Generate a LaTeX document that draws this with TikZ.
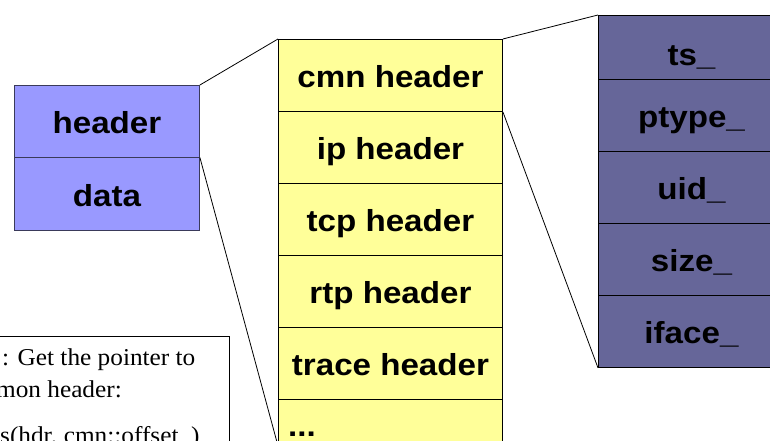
\documentclass[tikz,border=0pt]{standalone}
\usepackage{fontspec}
\setmainfont{Liberation Serif}
\newfontfamily\labelfont{Liberation Sans}
\usepackage{graphicx}
\definecolor{pktblue}{HTML}{9999FF}
\definecolor{pktyellow}{HTML}{FFFF99}
\definecolor{pktpurple}{HTML}{666699}
\definecolor{pktedge}{HTML}{3A3A5A}
\newcommand{\cellfont}{\labelfont\bfseries\fontsize{30.4bp}{36bp}\selectfont}
\newcommand{\cell}[1]{\scalebox{1.09}[1]{\cellfont #1}}
\newcommand{\note}[1]{\scalebox{1.045}[1]{\fontsize{24.2bp}{29bp}\selectfont #1}}
\tikzset{
  field/.style={draw, line width=0.9bp, rectangle, anchor=north west, inner sep=0pt,
    text height=24bp, text depth=0pt, font=\cellfont},
  pkt/.style={field, draw=pktedge, fill=pktblue, minimum width=185bp, minimum height=72.5bp},
  hdr/.style={field, draw=black, fill=pktyellow, minimum width=224bp, minimum height=72bp},
  cmnf/.style={field, draw=black, fill=pktpurple, minimum width=186bp, minimum height=72bp},
  zoomline/.style={draw=black, line width=0.8bp},
  notetext/.style={inner sep=0pt}
}
\begin{document}
\begin{tikzpicture}[x=1bp,y=-1bp]
\useasboundingbox (0,0) rectangle (770,441);
\clip (0,0) rectangle (770,441);

% packet: header + data
\node[pkt] (pkthdr) at (14,85) {\cell{header}};
\node[pkt] (pktdata) at (14,157.5) {\cell{data}};

% header stack
\node[hdr] (cmn) at (278,39) {\cell{cmn header}};
\node[hdr] (ip) at (278,111) {\cell{ip header}};
\node[hdr] (tcp) at (278,183) {\cell{tcp header}};
\node[hdr] (rtp) at (278,255) {\cell{rtp header}};
\node[hdr] (trace) at (278,327) {\cell{trace header}};
\node[hdr, minimum height=46bp] (more) at (278,399) {};
\node[notetext, anchor=base west, font=\cellfont] (dots) at (288,436) {\cell{...}};

% common header fields
\node[cmnf, minimum height=64bp, text height=37bp] (ts) at (598,15) {\cell{ts\_}};
\node[cmnf] (ptype) at (598,79) {\cell{ptype\_}};
\node[cmnf] (uid) at (598,151) {\cell{uid\_}};
\node[cmnf] (size) at (598,223) {\cell{size\_}};
\node[cmnf] (iface) at (598,295) {\cell{iface\_}};

% zoom lines
\draw[zoomline] (pkthdr.north east) -- (cmn.north west);
\draw[zoomline] (pktdata.north east) -- (more.south west);
\draw[zoomline] (cmn.north east) -- (ts.north west);
\draw[zoomline] (cmn.south east) -- (iface.south west);

% code note
\node[draw=black, line width=0.9bp, fill=white, anchor=north west, inner sep=0pt,
  minimum width=250bp, minimum height=140bp] (notebox) at (-21,336) {};
\node[notetext, anchor=base west] (note1) at (2,366) {\note{: Get the pointer to}};
\node[notetext, anchor=base east] (note2) at (122,397) {\note{mon header:}};
\node[notetext, anchor=base west] (note3) at (0,443) {\note{s(hdr, cmn::offset\_)}};
\end{tikzpicture}
\end{document}
